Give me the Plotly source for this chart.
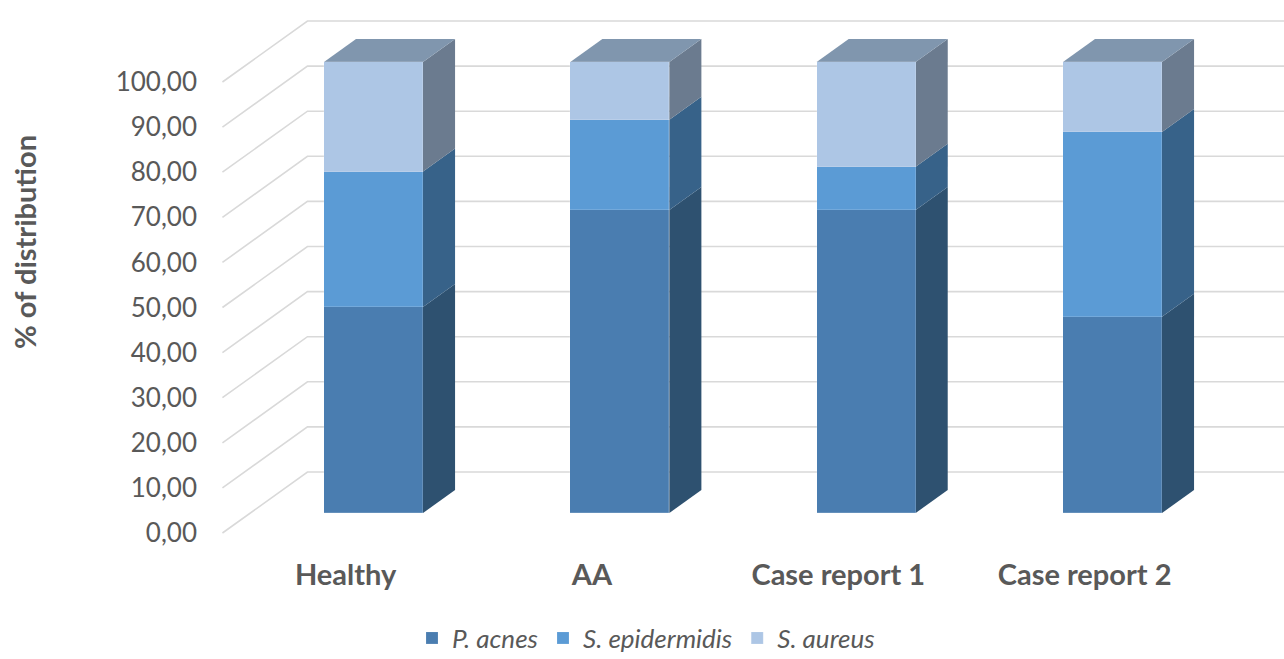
import plotly.graph_objects as go

# ---- data -------------------------------------------------------------
categories = ["Healthy", "AA", "Case report 1", "Case report 2"]
p_acnes = [45.7, 67.2, 67.2, 43.5]
s_epidermidis = [30.0, 20.0, 9.6, 41.0]
s_aureus = [24.3, 12.8, 23.2, 15.5]
y_ticks = [0, 10, 20, 30, 40, 50, 60, 70, 80, 90, 100]

series = [
    ("<i>P. acnes</i>", p_acnes),
    ("<i>S. epidermidis</i>", s_epidermidis),
    ("<i>S. aureus</i>", s_aureus),
]
front_colors = ["#4a7db0", "#5b9bd5", "#adc6e5"]
side_colors = ["#2e5170", "#376289", "#6b7b8f"]
top_color = "#8096ae"

# ---- page / projection geometry -----------------------------------------
FIG_W, FIG_H = 1284, 659
M_L, M_R, M_T, M_B = 208, 0, 0, 107
CAT0_PX, CAT_STEP_PX = 373.5, 246.33      # centre of first bar, category pitch
ZERO_PX, PX_PER_UNIT = 513.0, 4.51        # bar-front baseline, pixels per %
DEPTH_DX_PX, DEPTH_DY_PX = 85.0, 61.0     # oblique offset of the full wall depth
BAR_FRONT_D = 0.328                       # depth of the bar fronts (0 = front edge)
BAR_BACK_D = 0.705                        # depth of the bar backs
WALL_X = -0.5                             # side wall position in category units
BAR_W = 0.402

kx = DEPTH_DX_PX / CAT_STEP_PX            # category units per unit depth
kv = DEPTH_DY_PX / PX_PER_UNIT            # value units per unit depth

PLOT_W = FIG_W - M_L - M_R
PLOT_H = FIG_H - M_T - M_B


def proj(x, v, d):
    """Map a 3-D point (category, value, depth) onto the bar-front plane."""
    return x + (d - BAR_FRONT_D) * kx, v + (d - BAR_FRONT_D) * kv


x_range = [(M_L - CAT0_PX) / CAT_STEP_PX, (FIG_W - M_R - CAT0_PX) / CAT_STEP_PX]
y_range = [(ZERO_PX - (FIG_H - M_B)) / PX_PER_UNIT, (ZERO_PX - M_T) / PX_PER_UNIT]
shift_front = BAR_FRONT_D * kv
y2_range = [y_range[0] + shift_front, y_range[1] + shift_front]

xs = list(range(len(categories)))
shapes = []

# wall gridlines: side wall diagonals + back wall horizontals
for v in y_ticks:
    x0, v0 = proj(WALL_X, v, 0.0)
    x1, v1 = proj(WALL_X, v, 1.0)
    shapes.append(dict(type="path", xref="x", yref="y", layer="below",
                       path=f"M {x0},{v0} L {x1},{v1} L {x_range[1] + 1},{v1}",
                       line=dict(color="#d9d9d9", width=1.6)))

# side and top faces of every stacked bar
ddx = (BAR_BACK_D - BAR_FRONT_D) * kx
ddv = (BAR_BACK_D - BAR_FRONT_D) * kv
for i in xs:
    xl, xr = i - BAR_W / 2, i + BAR_W / 2
    base = 0.0
    for k, (_, vals) in enumerate(series):
        top = base + vals[i]
        shapes.append(dict(
            type="path", xref="x", yref="y", layer="below",
            path=(f"M {xr},{base} L {xr + ddx},{base + ddv} "
                  f"L {xr + ddx},{top + ddv} L {xr},{top} Z"),
            fillcolor=side_colors[k], line=dict(width=0)))
        base = top
    shapes.append(dict(
        type="path", xref="x", yref="y", layer="below",
        path=(f"M {xl},{base} L {xr},{base} L {xr + ddx},{base + ddv} "
              f"L {xl + ddx},{base + ddv} Z"),
        fillcolor=top_color, line=dict(width=0)))

fig = go.Figure()
for k, (name, vals) in enumerate(series):
    fig.add_trace(go.Bar(
        x=xs, y=vals, name=name, width=BAR_W,
        marker=dict(color=front_colors[k], line=dict(color="rgba(255,255,255,0.25)", width=0.6)),
        hoverinfo="y+name",
    ))

# invisible trace to carry the depth-0 value axis
fig.add_trace(go.Scatter(x=[x_range[0]], y=[0], yaxis="y2", mode="markers",
                         marker=dict(opacity=0), showlegend=False, hoverinfo="skip"))

tick_x = [i - BAR_FRONT_D * kx for i in xs]

fig.update_layout(
    width=FIG_W, height=FIG_H,
    margin=dict(l=M_L, r=M_R, t=M_T, b=M_B, pad=0, autoexpand=False),
    barmode="stack",
    bargap=0,
    paper_bgcolor="white", plot_bgcolor="white",
    separators=",.",
    font=dict(family="Lato, Open Sans, sans-serif", color="#595959"),
    shapes=shapes,
    xaxis=dict(range=x_range, showgrid=False, zeroline=False, showline=False,
               automargin=False,
               tickmode="array", tickvals=tick_x, ticktext=categories,
               tickfont=dict(size=29, color="#595959", family="Lato, sans-serif", weight="bold"),
               ticks="", ticklabelstandoff=3),
    yaxis=dict(range=y_range, showgrid=False, zeroline=False, showline=False,
               showticklabels=False, ticks="", automargin=False),
    yaxis2=dict(range=y2_range, overlaying="y", side="left", showgrid=False,
                zeroline=False, showline=False, tickmode="array", tickvals=y_ticks,
                tickformat=".2f", ticks="", ticklabelstandoff=10, automargin=False,
                tickfont=dict(size=26, color="#595959")),
    annotations=[dict(
        text="% of distribution", textangle=-90, showarrow=False,
        xref="paper", yref="paper",
        x=(25 - M_L) / PLOT_W, y=(FIG_H - M_B - 242) / PLOT_H,
        xanchor="center", yanchor="middle",
        font=dict(size=29, color="#595959", weight="bold"))],
    legend=dict(orientation="h", x=(646 - M_L) / PLOT_W, xanchor="center",
                y=-(638 - (FIG_H - M_B)) / PLOT_H, yanchor="middle",
                font=dict(size=26, color="#595959"), traceorder="normal",
                itemwidth=30, bgcolor="rgba(0,0,0,0)"),
    showlegend=True,
)

fig.write_html("out.html")
